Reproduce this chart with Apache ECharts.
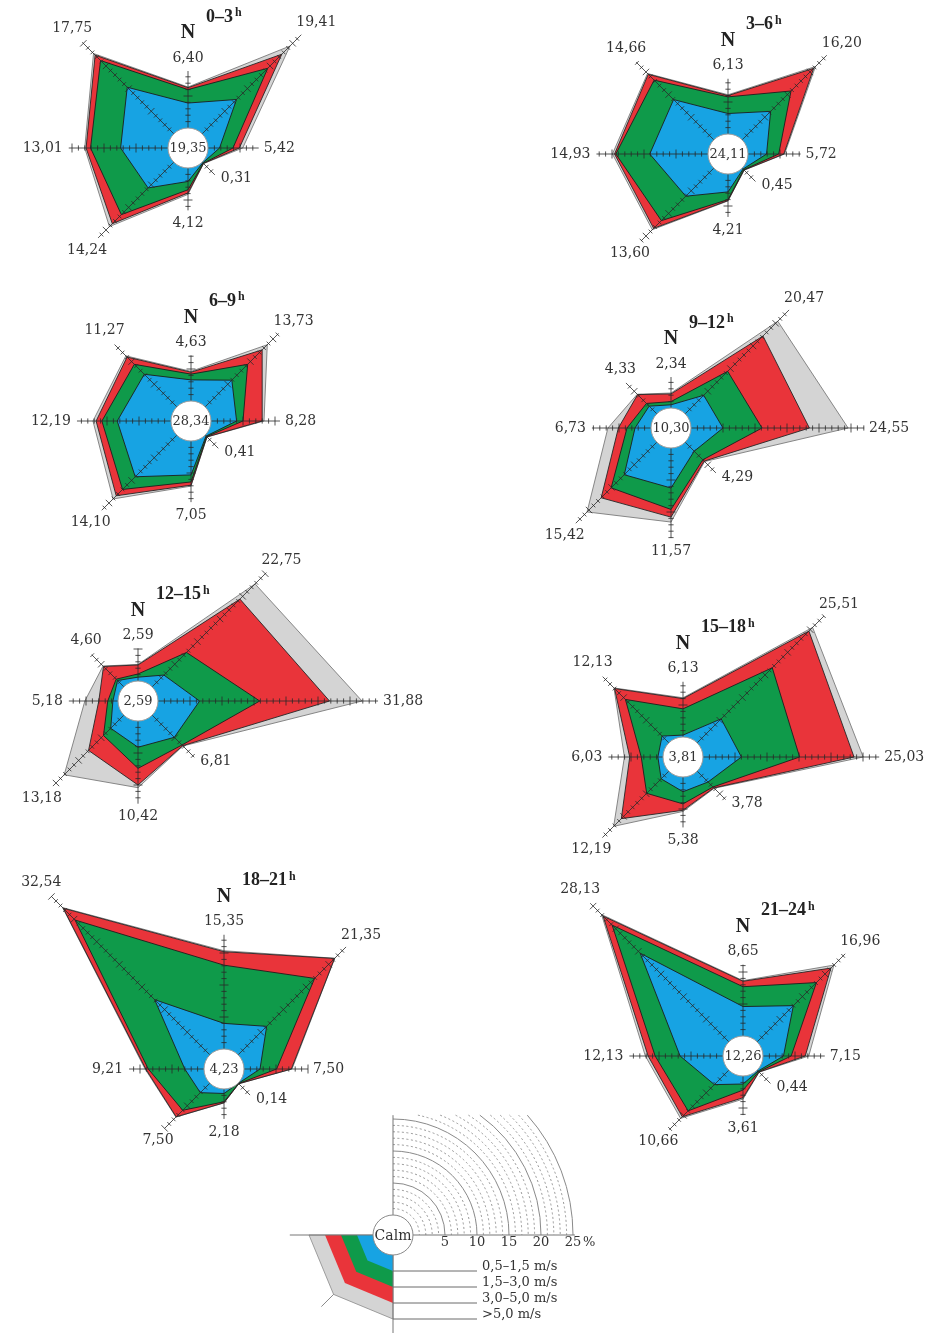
<!DOCTYPE html>
<html>
<head>
<meta charset="utf-8">
<title>Wind roses by 3-hour period</title>
<script src="https://cdn.jsdelivr.net/npm/echarts@6/dist/echarts.min.js"></script>
<style>
  html, body { margin: 0; padding: 0; background: #ffffff; }
  #chart { width: 933px; height: 1333px; }
</style>
</head>
<body>
<div id="chart"></div>
<script>
// Wind directions, clockwise from north (degrees on the angle axis)
const directions = ['N', 'NE', 'E', 'SE', 'S', 'SW', 'W', 'NW'];
const directionAngles = [0, 45, 90, 135, 180, 225, 270, 315];

// Observation periods, hours
const periods = ['0–3', '3–6', '6–9', '9–12', '12–15', '15–18', '18–21', '21–24'];

// Calm frequency, %
const calm = [19.35, 24.11, 28.34, 10.30, 2.59, 3.81, 4.23, 12.26];

// Frequency per direction, %, all speeds (rows: periods; columns: N, NE, E, SE, S, SW, W, NW)
const totalAll = [
  [6.40, 19.41, 5.42, 0.31, 4.12, 14.24, 13.01, 17.75],
  [6.13, 16.20, 5.72, 0.45, 4.21, 13.60, 14.93, 14.66],
  [4.63, 13.73, 8.28, 0.41, 7.05, 14.10, 12.19, 11.27],
  [2.34, 20.47, 24.55, 4.29, 11.57, 15.42, 6.73, 4.33],
  [2.59, 22.75, 31.88, 6.81, 10.42, 13.18, 5.18, 4.60],
  [6.13, 25.51, 25.03, 3.78, 5.38, 12.19, 6.03, 12.13],
  [15.35, 21.35, 7.50, 0.14, 2.18, 7.50, 9.21, 32.54],
  [8.65, 16.96, 7.15, 0.44, 3.61, 10.66, 12.13, 28.13]
];

// Cumulative frequency of winds up to 5,0 m/s, %
const upTo5 = [
  [6.3, 17.6, 4.9, 0.29, 3.9, 13.6, 12.8, 17.4],
  [6.0, 15.8, 5.6, 0.42, 4.15, 13.3, 14.6, 14.5],
  [4.5, 12.6, 8.0, 0.39, 6.9, 13.4, 11.7, 11.0],
  [2.2, 17.2, 18.5, 4.2, 10.8, 12.3, 5.1, 4.25],
  [2.5, 19.4, 26.8, 6.75, 10.0, 7.8, 3.0, 4.5],
  [6.0, 24.7, 23.6, 3.7, 5.2, 10.5, 5.2, 12.0],
  [15.2, 21.3, 7.4, 0.13, 2.15, 7.45, 9.1, 32.4],
  [8.55, 16.3, 6.6, 0.42, 3.4, 10.3, 11.7, 27.8]
];

// Cumulative frequency of winds up to 3,0 m/s, %
const upTo3 = [
  [6.0, 14.5, 3.9, 0.25, 3.4, 11.6, 12.1, 16.2],
  [5.8, 10.8, 4.8, 0.35, 4.0, 11.6, 14.4, 13.2],
  [4.2, 9.4, 5.0, 0.33, 6.4, 12.0, 10.8, 9.4],
  [1.0, 9.4, 11.1, 3.9, 9.6, 10.1, 3.75, 2.3],
  [1.1, 7.6, 15.9, 6.6, 7.4, 4.5, 1.6, 1.7],
  [4.4, 16.6, 15.1, 3.5, 4.2, 4.9, 3.4, 9.6],
  [13.1, 16.9, 5.1, 0.1, 2.0, 6.0, 8.7, 29.8],
  [7.7, 13.1, 4.4, 0.35, 2.2, 9.0, 10.6, 25.8]
];

// Frequency of winds 0,5–1,5 m/s, %
const upTo15 = [
  [3.9, 7.6, 1.8, 0.15, 2.1, 5.7, 7.4, 10.3],
  [3.2, 6.3, 2.9, 0.2, 2.8, 6.2, 9.1, 8.9],
  [3.3, 5.9, 4.0, 0.2, 5.3, 9.2, 8.4, 7.2],
  [0.5, 4.1, 5.0, 2.0, 6.25, 7.2, 2.5, 1.7],
  [0.6, 2.6, 6.5, 4.9, 4.1, 2.9, 0.8, 1.4],
  [0.3, 5.3, 6.0, 2.4, 2.3, 1.7, 0.8, 1.5],
  [4.0, 6.3, 2.5, 0.05, 0.7, 2.1, 3.0, 12.2],
  [4.6, 8.0, 3.2, 0.2, 1.25, 3.2, 6.7, 19.6]
];

// Key: speed classes, scale rings and the sample bands
const speedClasses = ['0,5–1,5 m/s', '1,5–3,0 m/s', '3,0–5,0 m/s', '>5,0 m/s'];
const scaleTicks = [5, 10, 15, 20, 25];
const keyBandLevels = [2.5, 5, 7.5, 10];

// ---- layout and style ----
const FONT = "'DejaVu Serif', 'Liberation Serif', serif";
const HEAD_FONT = "'Liberation Serif', 'DejaVu Serif', serif";
const TEXT_COLOR = '#333333';
const SPEED_FILL = ['#17a3e3', '#0f9a4a', '#e9343a', '#d4d4d4'];
const SPEED_STROKE = ['#1d1d1d', '#1d1d1d', '#262626', '#7b7b7b'];

const CALM_R_PX = 20;          // radius of the calm disc
const PX_PER_PCT = 6.4;        // radial scale
const R_MIN = -CALM_R_PX / PX_PER_PCT;
const R_MAX = 40;
const POLAR_R = (R_MAX - R_MIN) * PX_PER_PCT;
const AXIS_EXTRA = 2.5;        // how far each direction axis runs past its value, %
const KEY_TOP_PCT = 15.6;      // the key grid is cut at this height

const roseCenters = [[188, 148], [728, 154], [191, 421], [671, 428], [138, 701], [683, 757], [224, 1069], [743, 1056]];
const keyCenter = [393, 1235];

// where each direction's value label sits relative to the axis end
const LABEL_PLACE = [
  { dx: 0, dy: -6, align: 'center', va: 'bottom' },
  { dx: -5, dy: -5, align: 'left', va: 'bottom' },
  { dx: 5, dy: 0, align: 'left', va: 'middle' },
  { dx: 6, dy: 4, align: 'left', va: 'middle' },
  { dx: 0, dy: 6, align: 'center', va: 'top' },
  { dx: 9, dy: 5, align: 'right', va: 'top' },
  { dx: -6, dy: 0, align: 'right', va: 'middle' },
  { dx: 10, dy: -7, align: 'right', va: 'bottom' }
];

const fmt = v => v.toFixed(2).replace('.', ',');
const xy = p => [p[0], p[1]];

const chart = echarts.init(document.getElementById('chart'), null, { renderer: 'canvas', width: 933, height: 1333 });

const polar = [], angleAxis = [], radiusAxis = [];
roseCenters.concat([keyCenter]).forEach((c, i) => {
  polar.push({ center: c, radius: POLAR_R });
  angleAxis.push({
    polarIndex: i, type: 'value', min: 0, max: 360, startAngle: 90, clockwise: true, show: false,
    axisLine: { show: false }, axisTick: { show: false }, axisLabel: { show: false }, splitLine: { show: false }
  });
  radiusAxis.push({
    polarIndex: i, type: 'value', min: R_MIN, max: R_MAX, show: false,
    axisLine: { show: false }, axisTick: { show: false }, axisLabel: { show: false }, splitLine: { show: false }
  });
});

const series = [];

roseCenters.forEach((c, i) => {
  // stacked speed bands, outermost first
  series.push({
    type: 'custom', coordinateSystem: 'polar', polarIndex: i, silent: true, animation: false, z: 1,
    data: [totalAll[i], upTo5[i], upTo3[i], upTo15[i]],
    renderItem: (params, api) => {
      const cls = 3 - params.dataIndex;
      const pts = directionAngles.map((a, d) => xy(api.coord([api.value(d), a])));
      return {
        type: 'polygon', shape: { points: pts },
        style: { fill: SPEED_FILL[cls], stroke: SPEED_STROKE[cls], lineWidth: 0.9, lineJoin: 'miter' }
      };
    }
  });

  // direction axes with 1 % ticks and the total value label
  series.push({
    type: 'custom', coordinateSystem: 'polar', polarIndex: i, silent: true, animation: false, z: 2,
    data: directionAngles.map((a, d) => [totalAll[i][d], a]),
    renderItem: (params, api) => {
      const d = params.dataIndex;
      const tot = api.value(0), ang = api.value(1);
      const end = tot + AXIS_EXTRA;
      const c0 = api.coord([R_MIN, ang]);
      const p0 = api.coord([0, ang]);
      const p1 = api.coord([end, ang]);
      const len = Math.hypot(p1[0] - c0[0], p1[1] - c0[1]);
      const ux = (p1[0] - c0[0]) / len, uy = (p1[1] - c0[1]) / len;
      const nx = -uy, ny = ux;
      let path = `M${p0[0]} ${p0[1]}L${p1[0]} ${p1[1]}`;
      for (let v = 1; v <= end; v++) {
        const p = api.coord([v, ang]);
        const h = v % 5 === 0 ? 4.5 : 2.6;
        path += `M${p[0] - nx * h} ${p[1] - ny * h}L${p[0] + nx * h} ${p[1] + ny * h}`;
      }
      const lp = LABEL_PLACE[d];
      return {
        type: 'group',
        children: [
          { type: 'path', shape: { pathData: path }, style: { fill: 'none', stroke: '#2a2a2a', lineWidth: 0.8 } },
          {
            type: 'text', x: p1[0] + lp.dx, y: p1[1] + lp.dy,
            style: { text: fmt(tot), font: `14px ${FONT}`, fill: TEXT_COLOR, align: lp.align, verticalAlign: lp.va }
          }
        ]
      };
    }
  });

  // calm disc, north marker and period title
  series.push({
    type: 'custom', coordinateSystem: 'polar', polarIndex: i, silent: true, animation: false, z: 3,
    data: [[calm[i], totalAll[i][0]]],
    renderItem: (params, api) => {
      const ctr = api.coord([R_MIN, 0]);
      const edge = api.coord([0, 0]);
      const r = Math.hypot(edge[0] - ctr[0], edge[1] - ctr[1]);
      const nEnd = api.coord([api.value(1) + AXIS_EXTRA, 0]);
      const nY = nEnd[1] - 38;
      return {
        type: 'group',
        children: [
          { type: 'circle', shape: { cx: ctr[0], cy: ctr[1], r: r }, style: { fill: '#ffffff', stroke: '#9c9c9c', lineWidth: 1 } },
          {
            type: 'text', x: ctr[0], y: ctr[1] + 1,
            style: { text: fmt(api.value(0)), font: `13px ${FONT}`, fill: TEXT_COLOR, align: 'center', verticalAlign: 'middle' }
          },
          {
            type: 'text', x: nEnd[0], y: nY,
            style: { text: directions[0], font: `bold 20px ${HEAD_FONT}`, fill: '#222222', align: 'center', verticalAlign: 'middle' }
          },
          {
            type: 'text', x: nEnd[0] + 18, y: nY - 16,
            style: {
              text: `{a|${periods[i]}}{h|h}`, align: 'left', verticalAlign: 'middle',
              rich: {
                a: { font: `bold 18px ${HEAD_FONT}`, fill: '#222222', lineHeight: 20 },
                h: { font: `bold 12px ${HEAD_FONT}`, fill: '#222222', lineHeight: 12, verticalAlign: 'top', padding: [0, 0, 0, 2] }
              }
            }
          }
        ]
      };
    }
  });
});

// key: percentage rings, sample bands, speed classes
series.push({
  type: 'custom', coordinateSystem: 'polar', polarIndex: roseCenters.length, silent: true, animation: false, z: 1,
  data: [[0, 0]],
  renderItem: (params, api) => {
    const c = api.coord([R_MIN, 0]);
    const rad = v => api.coord([v, 90])[0] - c[0];
    const topR = rad(KEY_TOP_PCT);
    const children = [];
    const maxTick = scaleTicks[scaleTicks.length - 1];
    for (let v = 1; v <= maxTick; v++) {
      const r = rad(v);
      const start = r > topR ? -Math.asin(topR / r) : -Math.PI / 2;
      const major = v % 5 === 0;
      children.push({
        type: 'arc', shape: { cx: c[0], cy: c[1], r: r, startAngle: start, endAngle: 0, clockwise: true },
        style: { fill: 'none', stroke: major ? '#8a8a8a' : '#8c8c8c', lineWidth: major ? 1 : 0.9, lineDash: major ? null : [2, 2.5] }
      });
    }
    // south-west axis stub
    const sw = api.coord([12.7, 225]);
    children.push({ type: 'line', shape: { x1: c[0], y1: c[1], x2: sw[0], y2: sw[1] }, style: { stroke: '#8a8a8a', lineWidth: 1 } });
    // sample bands, outermost first
    for (let k = keyBandLevels.length - 1; k >= 0; k--) {
      const v = keyBandLevels[k];
      const pts = [xy(c)].concat([180, 225, 270].map(a => xy(api.coord([v, a]))));
      children.push({
        type: 'polygon', shape: { points: pts },
        style: { fill: SPEED_FILL[k], stroke: k === 3 ? '#8a8a8a' : 'none', lineWidth: 0.8 }
      });
    }
    // frame lines
    const west = api.coord([13, 270]), east = api.coord([25.3, 90]);
    const top = api.coord([KEY_TOP_PCT, 0]), bottom = api.coord([12.5, 180]);
    children.push({ type: 'line', shape: { x1: west[0], y1: c[1], x2: east[0], y2: c[1] }, style: { stroke: '#777777', lineWidth: 1 } });
    children.push({ type: 'line', shape: { x1: c[0], y1: top[1], x2: c[0], y2: bottom[1] }, style: { stroke: '#777777', lineWidth: 1 } });
    // calm disc
    children.push({ type: 'circle', shape: { cx: c[0], cy: c[1], r: rad(0) }, style: { fill: '#ffffff', stroke: '#8a8a8a', lineWidth: 1 } });
    children.push({
      type: 'text', x: c[0], y: c[1] + 1,
      style: { text: 'Calm', font: `14px ${FONT}`, fill: TEXT_COLOR, align: 'center', verticalAlign: 'middle' }
    });
    // scale labels
    scaleTicks.forEach((v, idx) => {
      const p = api.coord([v, 90]);
      children.push({
        type: 'text', x: p[0], y: c[1] + 1,
        style: { text: String(v), font: `13px ${FONT}`, fill: TEXT_COLOR, align: 'center', verticalAlign: 'top' }
      });
      if (idx === scaleTicks.length - 1) {
        children.push({
          type: 'text', x: p[0] + 10, y: c[1] + 1,
          style: { text: '%', font: `13px ${FONT}`, fill: TEXT_COLOR, align: 'left', verticalAlign: 'top' }
        });
      }
    });
    // speed class leaders
    const leadEnd = api.coord([10, 90])[0];
    speedClasses.forEach((name, k) => {
      const y = api.coord([keyBandLevels[k], 180])[1];
      children.push({ type: 'line', shape: { x1: c[0], y1: y, x2: leadEnd, y2: y }, style: { stroke: '#6a6a6a', lineWidth: 1 } });
      children.push({
        type: 'text', x: leadEnd + 5, y: y + 2,
        style: { text: name, font: `13px ${FONT}`, fill: TEXT_COLOR, align: 'left', verticalAlign: 'bottom' }
      });
    });
    return { type: 'group', children: children };
  }
});

chart.setOption({
  backgroundColor: '#ffffff',
  animation: false,
  polar: polar,
  angleAxis: angleAxis,
  radiusAxis: radiusAxis,
  series: series
});
</script>
</body>
</html>
